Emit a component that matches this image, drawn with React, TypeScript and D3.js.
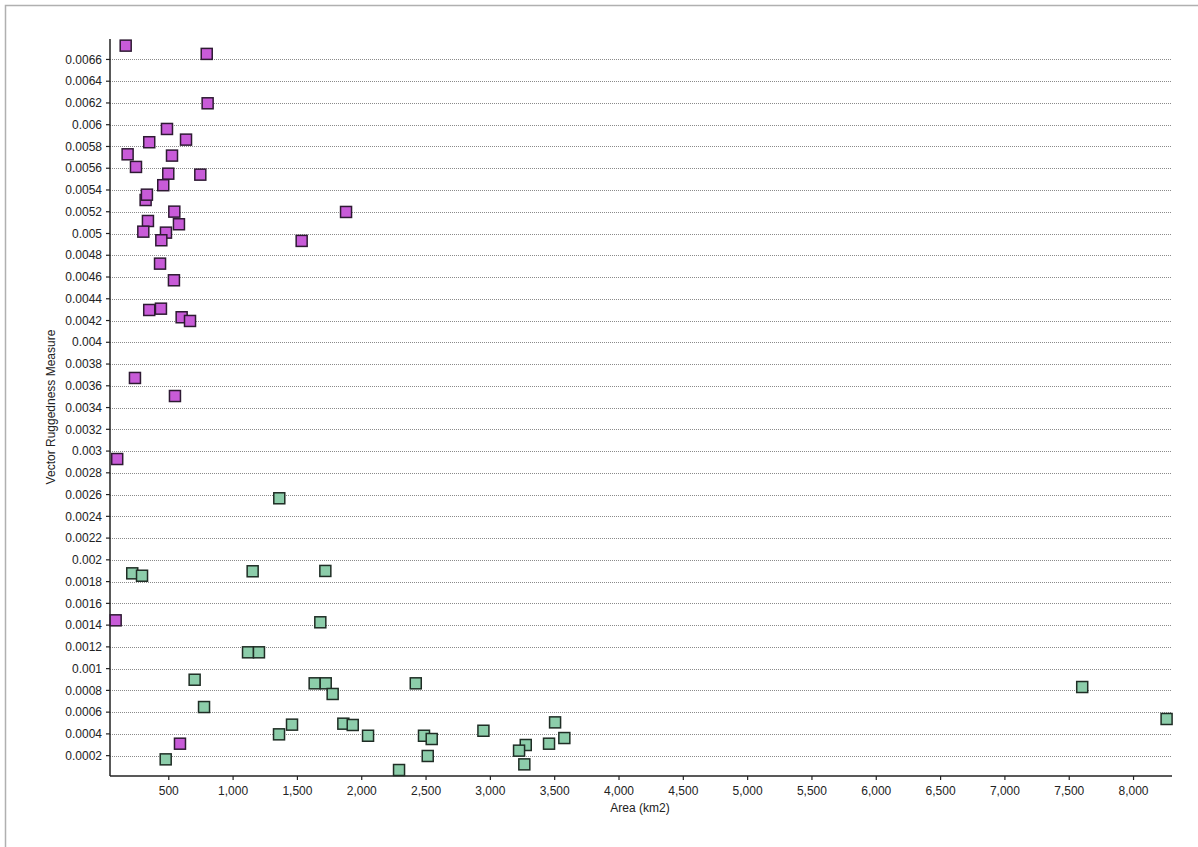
import React from "react";
import * as d3 from "d3";

// Area (km2), Vector Ruggedness Measure
const purpleArea = [165, 795, 802, 486, 634, 348, 180, 525, 245, 496, 745, 457, 320, 330, 543, 338, 579, 302, 478, 442, 1533, 1878, 432, 540, 348, 439, 600, 665, 237, 548, 99, 87, 587];
const purpleVrm = [0.006727, 0.006651, 0.006197, 0.005961, 0.005863, 0.005839, 0.005728, 0.005716, 0.005612, 0.00555, 0.005541, 0.005444, 0.005308, 0.005357, 0.005201, 0.005115, 0.005085, 0.005017, 0.005008, 0.004938, 0.004932, 0.005198, 0.004723, 0.00457, 0.004297, 0.004309, 0.00423, 0.004196, 0.003672, 0.003506, 0.002927, 0.001444, 0.00031];

const greenArea = [216, 292, 1152, 1717, 1678, 1116, 1201, 701, 1634, 1720, 1774, 774, 1357, 1458, 476, 1359, 1857, 1930, 2049, 2420, 2290, 2484, 2544, 2513, 2946, 3503, 3575, 3456, 3275, 3223, 3264, 7601, 8257];
const greenVrm = [0.001876, 0.001854, 0.001895, 0.001898, 0.001426, 0.00115, 0.00115, 0.000898, 0.000865, 0.000865, 0.000767, 0.000647, 0.000396, 0.000485, 0.000166, 0.002566, 0.000494, 0.000482, 0.000383, 0.000865, 0.000068, 0.000383, 0.000353, 0.000197, 0.000429, 0.000506, 0.000362, 0.00031, 0.000298, 0.000246, 0.00012, 0.000831, 0.000537];

const xTicks = [500, 1000, 1500, 2000, 2500, 3000, 3500, 4000, 4500, 5000, 5500, 6000, 6500, 7000, 7500, 8000];
const yTicks = [0.0002, 0.0004, 0.0006, 0.0008, 0.001, 0.0012, 0.0014, 0.0016, 0.0018, 0.002, 0.0022, 0.0024, 0.0026, 0.0028, 0.003, 0.0032, 0.0034, 0.0036, 0.0038, 0.004, 0.0042, 0.0044, 0.0046, 0.0048, 0.005, 0.0052, 0.0054, 0.0056, 0.0058, 0.006, 0.0062, 0.0064, 0.0066];

const xTitle = "Area (km2)";
const yTitle = "Vector Ruggedness Measure";

export default function App() {
  const W = 1198, H = 847;
  const left = 110, right = 1172, top = 39, bottom = 776;
  const x = d3.scaleLinear().domain([43, 8299]).range([left, right]);
  const y = d3.scaleLinear().domain([0.000013, 0.006788]).range([bottom, top]);
  const fmtX = d3.format(",");
  const fmtY = (v: number) => String(Number(v.toFixed(4)));
  const font = "Arial, 'Liberation Sans', sans-serif";
  const s = 11;
  const fs = 12;

  const purple = purpleArea.map((a, i) => ({ a, v: purpleVrm[i] }));
  const green = greenArea.map((a, i) => ({ a, v: greenVrm[i] }));

  return (
    <svg width={W} height={H} style={{ position: "absolute", left: 0, top: 0, background: "#fff" }} fontFamily={font}>
      <rect x={0} y={0} width={W} height={H} fill="#fff" />
      <path d={`M5.5,${H} V5.5 H${W}`} fill="none" stroke="#b0b0b0" strokeWidth={1.5} />
      {/* grid */}
      {yTicks.map((t) => (
        <line key={"g" + t} x1={left} x2={right} y1={Math.round(y(t)) + 0.5} y2={Math.round(y(t)) + 0.5}
          stroke="#8a8a8a" strokeWidth={1} strokeDasharray="1,1" />
      ))}
      {/* y axis */}
      <line x1={left} x2={left} y1={top} y2={bottom} stroke="#222" strokeWidth={1.5} />
      {yTicks.map((t) => (
        <g key={"y" + t}>
          <line x1={left - 4} x2={left} y1={y(t)} y2={y(t)} stroke="#222" strokeWidth={1.2} />
          <text x={left - 8} y={y(t)} dy="0.35em" textAnchor="end" fontSize={fs} fill="#222">{fmtY(t)}</text>
        </g>
      ))}
      {/* x axis */}
      <line x1={left} x2={right} y1={bottom} y2={bottom} stroke="#222" strokeWidth={1.5} />
      {xTicks.map((t) => (
        <g key={"x" + t}>
          <line x1={x(t)} x2={x(t)} y1={bottom} y2={bottom + 4} stroke="#222" strokeWidth={1.2} />
          <text x={x(t)} y={bottom + 19} textAnchor="middle" fontSize={fs} fill="#222">{fmtX(t)}</text>
        </g>
      ))}
      <text x={640} y={812} textAnchor="middle" fontSize={fs} fill="#222">{xTitle}</text>
      <text transform={`translate(55,407) rotate(-90)`} textAnchor="middle" fontSize={fs} fill="#222">{yTitle}</text>
      {/* points */}
      {purple.map((p, i) => (
        <rect key={"p" + i} x={x(p.a) - s / 2} y={y(p.v) - s / 2} width={s} height={s}
          fill="#c85bd8" stroke="#2e1a33" strokeWidth={1.5} />
      ))}
      {green.map((p, i) => (
        <rect key={"q" + i} x={x(p.a) - s / 2} y={y(p.v) - s / 2} width={s} height={s}
          fill="#8ccdaa" stroke="#1f2d25" strokeWidth={1.5} />
      ))}
    </svg>
  );
}
